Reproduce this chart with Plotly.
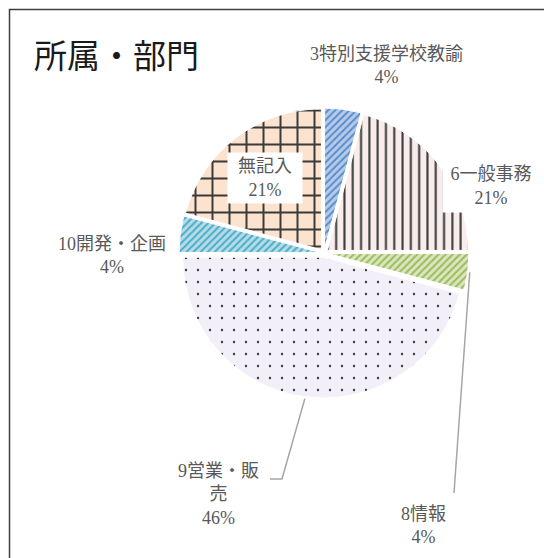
import math
import plotly.graph_objects as go

# ---- data ----
categories = ["3特別支援学校教諭", "6一般事務", "8情報", "9営業・販売", "10開発・企画", "無記入"]
counts = [1, 5, 1, 11, 1, 5]
label_text = ["3特別支援学校教諭", "6一般事務", "8情報", "9営業・販<br>売", "10開発・企画", "無記入"]
title_text = "所属・部門"

# ---- styling ----
bg_colors = ["#b6cbe8", "#f9ecec", "#d9e6bf", "#f3eff8", "#b5dce8", "#fbe3cf"]
fg_colors = ["#5a8ccc", "#3a3a3a", "#9bbb59", "#3a3a3a", "#4bacc6", "#3a3a3a"]
shapes_pat = ["/", "|", "/", ".", "/", "+"]
sizes_pat = [5, 8.3, 5, 12, 5, 17]
solid_pat = [0.4, 0.25, 0.4, 0.03, 0.4, 0.22]

W, H = 544, 558
CX, CY = 324, 253      # pie centre (px)
BOX = 145              # half size of pie domain (px)
PULL = 0.03
FONT = "Liberation Serif, Noto Sans CJK JP, sans-serif"
LABEL_COLOR = "#595959"

# label centres (px)
label_pos = [(386, 65), (491, 186), (423, 525), (218, 494), (112, 255), (265, 178)]

def px(x):
    return x / W

def py(y):
    return 1 - y / H

fig = go.Figure()
fig.add_trace(go.Pie(
    labels=categories,
    values=counts,
    sort=False,
    direction="clockwise",
    rotation=0,
    pull=[PULL] * len(counts),
    textinfo="none",
    hoverinfo="skip",
    marker=dict(
        colors=bg_colors,
        line=dict(color="white", width=1),
        pattern=dict(
            shape=shapes_pat,
            fgcolor=fg_colors,
            bgcolor=bg_colors,
            size=sizes_pat,
            solidity=solid_pat,
            fillmode="replace",
        ),
    ),
    domain=dict(x=[px(CX - BOX), px(CX + BOX)], y=[py(CY + BOX), py(CY - BOX)]),
    showlegend=False,
))

total = sum(counts)
pcts = [round(c / total * 100) for c in counts]

annotations = []
for i, (lt, (lx, ly)) in enumerate(zip(label_text, label_pos)):
    a = dict(
        x=px(lx), y=py(ly), xref="paper", yref="paper",
        xanchor="center", yanchor="middle",
        text=f"{lt}<br>{pcts[i]}%", showarrow=False, align="center",
        font=dict(family=FONT, size=18, color=LABEL_COLOR),
    )
    if i == 1:
        a.update(bgcolor="white", width=92, height=48, borderpad=2)
    if i == 5:
        a.update(bgcolor="white", width=70, height=46, borderpad=2)
    annotations.append(a)

annotations.append(dict(
    x=px(32), y=py(57), xref="paper", yref="paper", xanchor="left", yanchor="middle",
    text=title_text, showarrow=False,
    font=dict(family=FONT, size=33, color="#1a1a1a"),
))

# leader line anchors from slice mid-angles
mids = []
cum = 0
for c in counts:
    mids.append((cum + c / 2) / total * 2 * math.pi)
    cum += c

def edge(i, extra=2):
    rr = BOX + extra
    return CX + rr * math.sin(mids[i]), CY - rr * math.cos(mids[i])

shapes = []
# frame (top and left visible)
shapes.append(dict(type="rect", xref="paper", yref="paper",
                   x0=px(9.5), y0=-0.2, x1=1.2, y1=py(9.5),
                   line=dict(color="#3f3f3f", width=1.5), fillcolor="rgba(0,0,0,0)"))

def path(points):
    return "M " + " L ".join(f"{px(x)},{py(y)}" for x, y in points)

ax, ay = edge(3)
shapes.append(dict(type="path", xref="paper", yref="paper",
                   path=path([(ax, ay), (282, 479), (270, 479)]),
                   line=dict(color="#a6a6a6", width=1.5)))
bx, by = edge(2)
shapes.append(dict(type="path", xref="paper", yref="paper",
                   path=path([(bx, by), (454, 493)]),
                   line=dict(color="#a6a6a6", width=1.5)))

fig.update_layout(
    width=W, height=H,
    margin=dict(l=0, r=0, t=0, b=0),
    paper_bgcolor="white", plot_bgcolor="white",
    annotations=annotations, shapes=shapes,
    showlegend=False,
)

fig.write_html("out.html",
               config={"displayModeBar": False, "staticPlot": True},
               post_script="document.body.style.margin='0';document.body.style.overflow='hidden';")
